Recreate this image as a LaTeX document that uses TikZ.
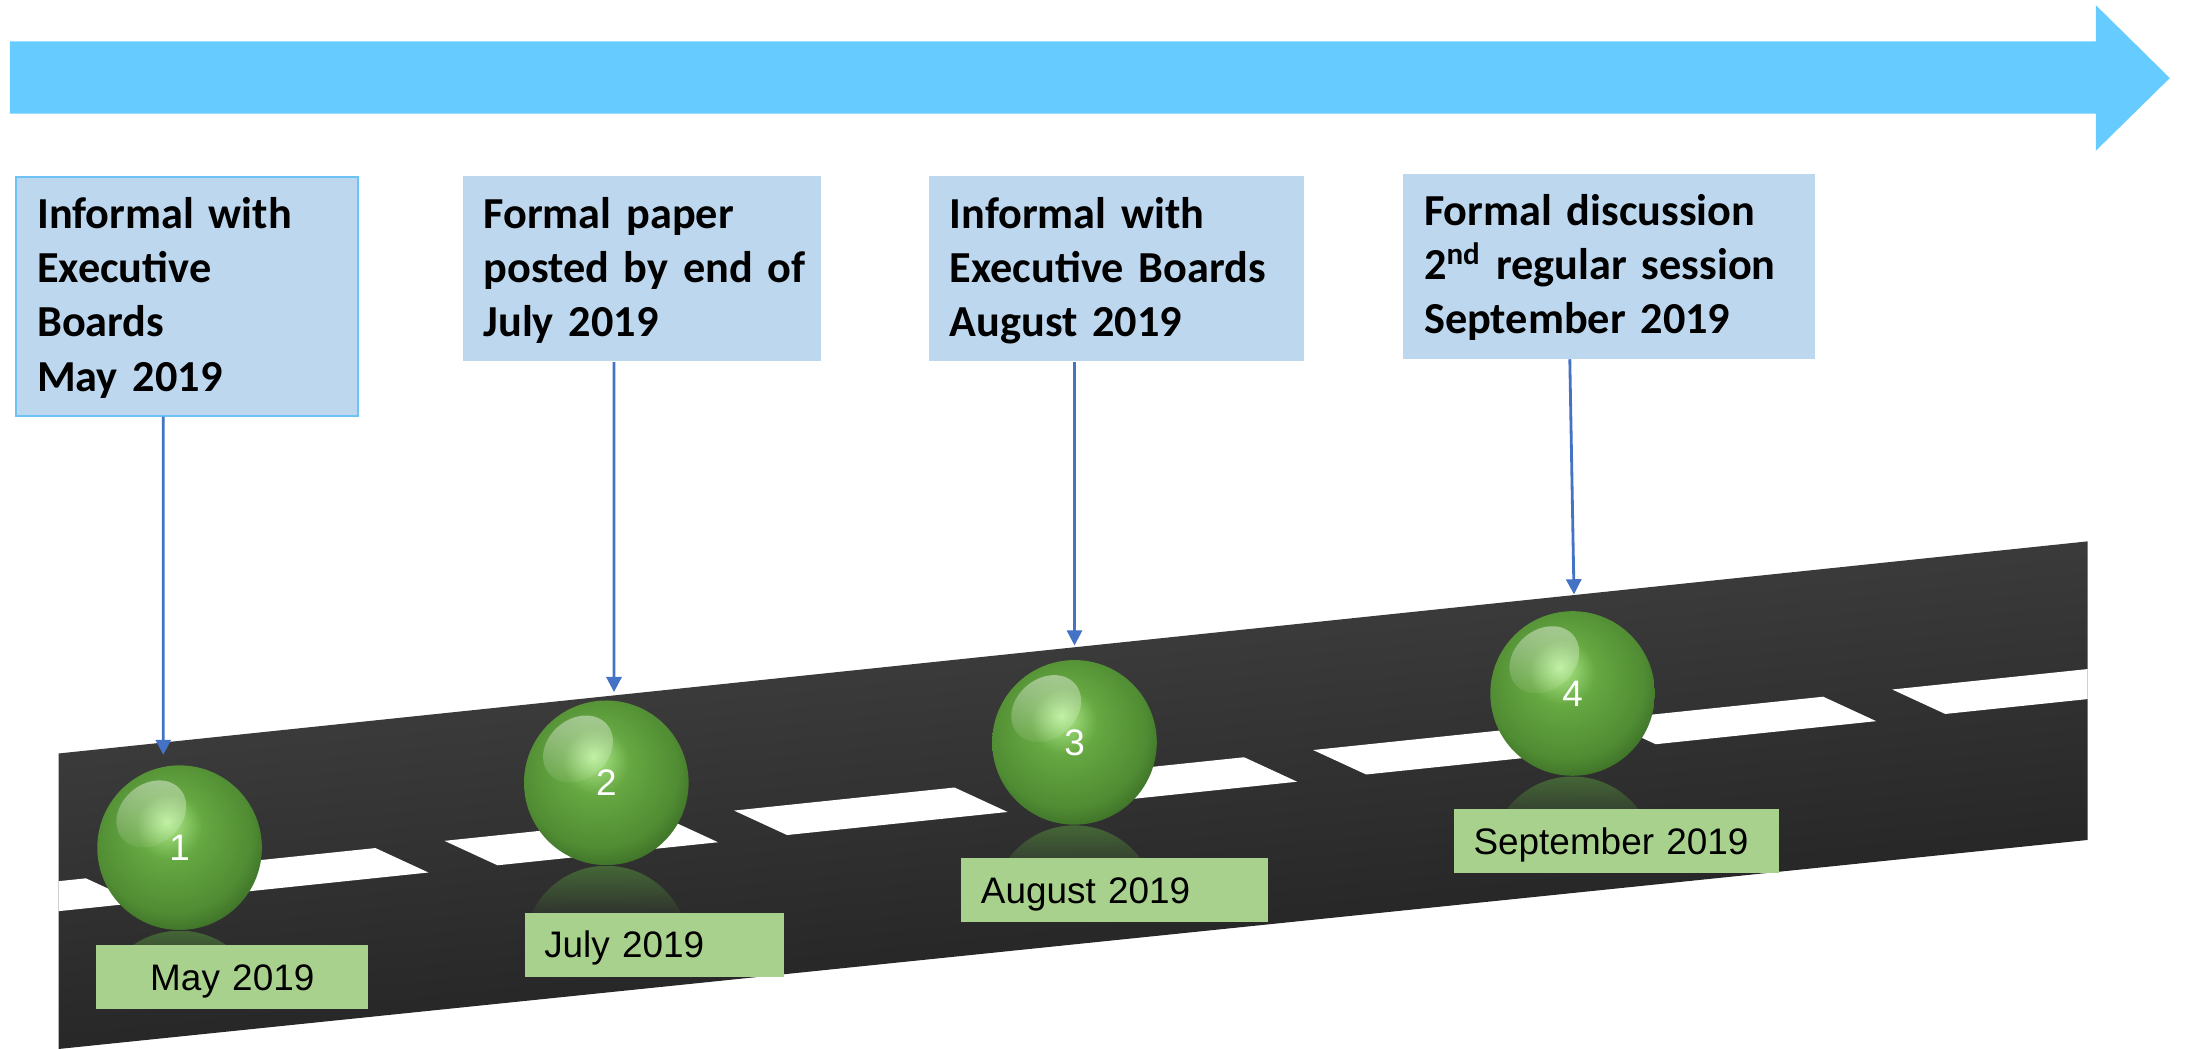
\documentclass[tikz,border=0pt]{standalone}
\usepackage{fontspec}
\setmainfont{Liberation Sans}
\newfontfamily\calibri{Carlito}
\usepackage{xcolor}
\usepackage{tikz}
\usetikzlibrary{arrows.meta,calc,fadings,shadings}

\definecolor{arrowblue}{HTML}{66CCFF}
\definecolor{boxblue}{HTML}{BDD7EE}
\definecolor{boxedge}{HTML}{6CC4F5}
\definecolor{dategreen}{HTML}{A9D18E}
\definecolor{linkblue}{HTML}{4472C4}
\definecolor{roadtop}{HTML}{464646}
\definecolor{roadbot}{HTML}{1C1C1C}
\definecolor{ballhi}{HTML}{B2EE8E}
\definecolor{ballmid}{HTML}{66A842}
\definecolor{balldark}{HTML}{508C33}
\definecolor{ballrim}{HTML}{2E5A1E}
\definecolor{refl}{HTML}{4E7E3A}

\pgfdeclareradialshading{greenball}{\pgfpoint{-4bp}{8bp}}{color(0bp)=(ballhi); color(10bp)=(ballmid); color(24bp)=(balldark); color(34bp)=(ballrim); color(50bp)=(ballrim)}
\tikzfading[name=fadedown, top color=transparent!30, bottom color=transparent!100]
\tikzfading[name=glossfade, top color=transparent!55, bottom color=transparent!95]

\newcommand{\tlstrut}{\rule{0pt}{14.7pt}}
\newcommand{\blstrut}{\rule[-7pt]{0pt}{7pt}}

\begin{document}
\begin{tikzpicture}[
    infobox/.style={fill=boxblue, anchor=north west, inner xsep=0.21cm, inner ysep=0pt, align=left,
        font=\calibri\bfseries\fontsize{12.6}{15.45}\selectfont},
    datebox/.style={fill=dategreen, inner xsep=0.195cm, inner ysep=0pt, text height=0.454cm, text depth=0.188cm,
        align=left, font=\fontsize{10.5}{12}\selectfont},
    ball/.style={circle, minimum size=1.646cm, inner sep=0pt, shading=greenball, text=white,
        font=\fontsize{10.5}{12}\selectfont},
    link/.style={draw=linkblue, line width=0.8pt, -{Triangle[length=4.3pt,width=4.3pt]}}
]
    \useasboundingbox (0,0) rectangle (21.88,10.49);

    \coordinate (rbl) at (0.586,0);
    \coordinate (rtl) at (0.586,2.955);
    \coordinate (rtr) at (20.875,5.076);
    \coordinate (rbr) at (20.875,2.090);
    \shade[top color=roadtop, bottom color=roadbot, shading angle=6] (rbl) -- (rtl) -- (rtr) -- (rbr) -- cycle;
    \begin{scope}
        \clip (rbl) -- (rtl) -- (rtr) -- (rbr) -- cycle;
        \foreach \k in {-2,...,5}
            \fill[white, cm={1,0.10454,-0.530,0.2446,(0.586,1.378)}] ({4.389+2.8955*\k},0) rectangle ++(2.205,1);
    \end{scope}

    \node[ball] (b1) at (1.796,2.013) {1};
    \node[ball] (b2) at (6.063,2.662) {2};
    \node[ball] (b3) at (10.745,3.066) {3};
    \node[ball] (b4) at (15.726,3.555) {4};
    \foreach \b in {b1,b2,b3,b4} {
        \begin{scope}[shift={(\b.center)}]
            \fill[white, path fading=glossfade, rotate=40] (0,0.44) ellipse (0.38 and 0.3);
        \end{scope}
        \begin{scope}
            \clip ([yshift=-0.823cm]\b.south) circle (0.823cm);
            \fill[refl, path fading=fadedown] ([xshift=-0.823cm]\b.south) rectangle ++(1.646,-0.55);
        \end{scope}
    }

    \node[datebox, text width=2.331cm, align=center] (d1) at (2.323,0.722) {May 2019};
    \node[datebox, text width=2.205cm] (d2) at (6.545,1.043) {July 2019};
    \node[datebox, text width=2.68cm] (d3) at (11.149,1.587) {August 2019};
    \node[datebox, text width=2.861cm] (d4) at (16.166,2.076) {September 2019};

    \node[infobox, draw=boxedge, line width=0.5pt, text width=2.999cm] (box1) at (0.153,8.732)
        {\tlstrut Informal with\\Executive\\Boards\\May 2019\blstrut};
    \node[infobox, text width=3.166cm] (box2) at (4.619,8.732)
        {\tlstrut Formal paper\\\mbox{posted by end of}\\July 2019\blstrut};
    \node[infobox, text width=3.334cm] (box3) at (9.279,8.732)
        {\tlstrut Informal with\\\mbox{Executive Boards}\\August 2019\blstrut};
    \node[infobox, text width=3.696cm] (box4) at (14.024,8.760)
        {\tlstrut Formal discussion\\\mbox{2\textsuperscript{nd} regular session}\\September 2019\blstrut};

    \coordinate (tip1) at (1.633,2.941);
    \coordinate (tip2) at (6.140,3.569);
    \coordinate (tip3) at (10.745,4.035);
    \coordinate (tip4) at (15.740,4.546);
    \draw[link] ([xshift=1.48cm]box1.south west) -- (tip1);
    \draw[link] ([xshift=1.521cm]box2.south west) -- (tip2);
    \draw[link] ([xshift=1.466cm]box3.south west) -- (tip3);
    \draw[link] ([xshift=1.674cm]box4.south west) -- (tip4);

    \fill[arrowblue] (0.098,9.353) -- (20.959,9.353) -- (20.959,8.983) -- (21.698,9.709)
        -- (20.959,10.437) -- (20.959,10.076) -- (0.098,10.076) -- cycle;
\end{tikzpicture}
\end{document}
